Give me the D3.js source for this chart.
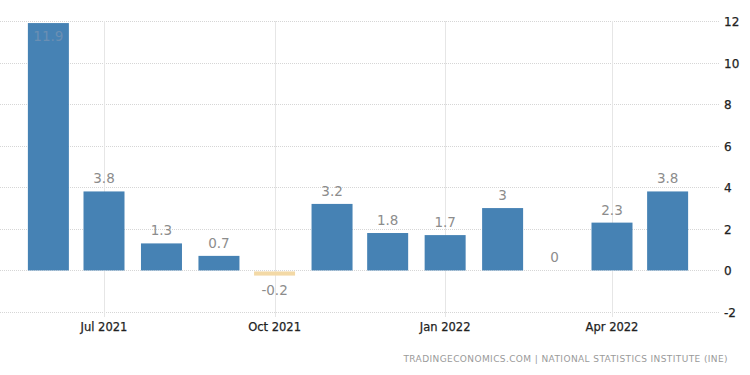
<!DOCTYPE html>
<html>
<head>
<meta charset="utf-8">
<script src="https://cdn.jsdelivr.net/npm/d3@7"></script>
<style>
  body { margin: 0; background: #fff; }
  svg { display: block; font-family: 'DejaVu Sans', sans-serif; }
</style>
</head>
<body>
<svg width="750" height="375"></svg>
<script>
// monthly values, Jun 2021 .. May 2022
var months = ['2021-06-01', '2021-07-01', '2021-08-01', '2021-09-01', '2021-10-01', '2021-11-01',
  '2021-12-01', '2022-01-01', '2022-02-01', '2022-03-01', '2022-04-01', '2022-05-01']
var values = [11.9, 3.8, 1.3, 0.7, -0.2, 3.2, 1.8, 1.7, 3, 0, 2.3, 3.8]
var xTicks = ['2021-07-01', '2021-10-01', '2022-01-01', '2022-04-01']
var yTicks = [-2, 0, 2, 4, 6, 8, 10, 12]
var source = 'TRADINGECONOMICS.COM  |  NATIONAL STATISTICS INSTITUTE (INE)'

var parseDate = d3.timeParse('%Y-%m-%d')
var fmtTick = d3.timeFormat('%b %Y')

var data = months.map(function (m, i) { return {date: parseDate(m), value: values[i]} })

var svg = d3.select('svg'),
  plotRight = 720,
  barWidth = 41

var x = d3.scaleTime()
    .domain([parseDate('2021-07-01'), parseDate('2022-04-01')])
    .range([104, 612])

var y = d3.scaleLinear()
    .domain([-2, 12])
    .range([312, 21])

// horizontal grid (dotted)
svg.append('g')
    .selectAll('line')
    .data(yTicks)
  .enter().append('line')
    .attr('x1', 0)
    .attr('x2', plotRight)
    .attr('y1', function (d) { return Math.round(y(d)) + 0.5 })
    .attr('y2', function (d) { return Math.round(y(d)) + 0.5 })
    .attr('stroke', '#d6d6d6')
    .attr('stroke-dasharray', '1,1')

// vertical grid at ticks
svg.append('g')
    .selectAll('line')
    .data(xTicks.map(parseDate))
  .enter().append('line')
    .attr('x1', function (d) { return Math.round(x(d)) + 0.5 })
    .attr('x2', function (d) { return Math.round(x(d)) + 0.5 })
    .attr('y1', y(12))
    .attr('y2', y(-2) + 5)
    .attr('stroke', '#e6e6e6')

// bars
svg.append('g')
    .selectAll('rect')
    .data(data)
  .enter().append('rect')
    .attr('x', function (d) { return x(d.date) - barWidth / 2 })
    .attr('width', barWidth)
    .attr('y', function (d) { return d.value >= 0 ? y(d.value) : y(0) + 1 })
    .attr('height', function (d) { return d.value >= 0 ? y(0) - y(d.value) : Math.max(y(d.value) - y(0), 4) })
    .attr('fill', function (d) { return d.value >= 0 ? '#4682b4' : '#f3d9a6' })

// value labels
svg.append('g')
    .selectAll('text')
    .data(data)
  .enter().append('text')
    .attr('x', function (d) { return x(d.date) })
    .attr('y', function (d) {
      if (d.value < 0) return y(0) + 25
      if (d.value > 11) return y(d.value) + 18
      return y(d.value) - 8
    })
    .attr('text-anchor', 'middle')
    .attr('font-size', 13.5)
    .attr('fill', function (d) { return d.value > 11 ? '#6b8fb3' : '#8c8c8c' })
    .text(function (d) { return String(d.value) })

// x axis labels
svg.append('g')
    .selectAll('text')
    .data(xTicks.map(parseDate))
  .enter().append('text')
    .attr('x', function (d) { return x(d) })
    .attr('y', 331)
    .attr('text-anchor', 'middle')
    .attr('font-size', 11.5)
    .attr('fill', '#222')
    .attr('stroke', '#222')
    .attr('stroke-width', 0.25)
    .text(fmtTick)

// y axis labels (right)
svg.append('g')
    .selectAll('text')
    .data(yTicks)
  .enter().append('text')
    .attr('x', 724)
    .attr('y', function (d) { return y(d) + 5 })
    .attr('font-size', 12)
    .attr('fill', '#222')
    .attr('stroke', '#222')
    .attr('stroke-width', 0.25)
    .text(function (d) { return d })

svg.append('text')
    .attr('x', 728)
    .attr('y', 362)
    .attr('text-anchor', 'end')
    .attr('font-size', 9)
    .attr('fill', '#9a9a9a')
    .attr('letter-spacing', 0.4)
    .text(source)
</script>
</body>
</html>
